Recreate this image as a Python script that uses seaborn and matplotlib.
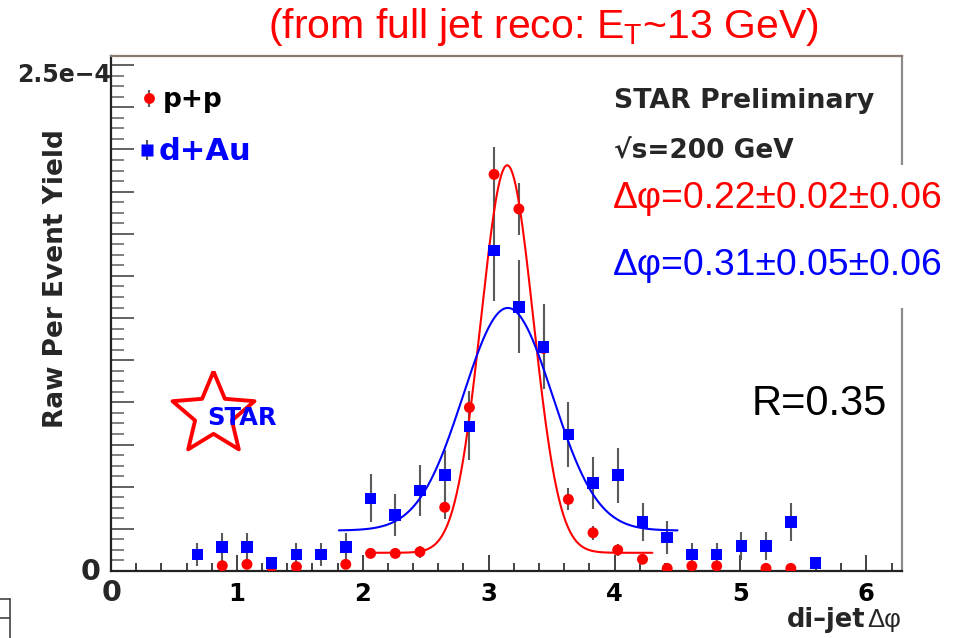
import numpy as np
import pandas as pd
import seaborn as sns
import matplotlib.pyplot as plt
from matplotlib.ticker import FixedLocator, MultipleLocator, AutoMinorLocator, NullFormatter
from matplotlib.lines import Line2D
from matplotlib.patches import Rectangle

# ---------------- data (yields in units of 1e-6 per event) ----------------
YSCALE = 1e-6

pp_dphi = [0.884, 1.080, 1.276, 1.473, 1.865, 2.062, 2.258, 2.454, 2.651, 2.847, 3.043,
           3.240, 3.436, 3.633, 3.829, 4.025, 4.222, 4.418, 4.614, 4.811, 5.203, 5.400]
pp_yield = [2.6, 3.3, 2.1, 2.1, 3.3, 8.7, 8.7, 9.5, 31.5, 80.8, 196.0,
            178.9, 110.0, 35.4, 18.9, 10.4, 5.8, 1.3, 2.5, 2.5, 1.3, 1.3]
pp_err = [2.0, 2.0, 2.0, 2.0, 2.0, 2.5, 2.5, 3.0, 6.0, 8.0, 13.6,
          13.0, 15.0, 5.4, 3.5, 3.0, 2.5, 2.0, 2.0, 2.0, 2.0, 2.0]

dau_dphi = [0.687, 0.884, 1.080, 1.276, 1.473, 1.669, 1.865, 2.062, 2.258, 2.454, 2.651,
            2.847, 3.043, 3.240, 3.436, 3.633, 3.829, 4.025, 4.222, 4.418, 4.614, 4.811,
            5.007, 5.203, 5.400, 5.596]
dau_yield = [8.2, 12.0, 12.0, 4.1, 8.2, 8.2, 12.0, 35.9, 27.7, 39.7, 47.4,
             71.5, 158.3, 130.6, 110.8, 67.5, 43.6, 47.4, 24.1, 16.5, 8.2, 8.2,
             12.4, 12.4, 24.1, 4.1]
dau_err = [5.5, 7.0, 7.0, 3.0, 5.5, 5.5, 7.0, 11.8, 10.5, 12.5, 12.4,
           16.5, 25.0, 23.0, 21.0, 16.0, 12.9, 13.6, 9.5, 8.0, 5.5, 5.5,
           7.0, 7.0, 9.5, 3.0]

# Gaussian + constant fits: mean, sigma, amplitude, pedestal, fit range
pp_fit = dict(mean=3.147, sigma=0.207, amp=191.5, base=9.0, lo=2.03, hi=4.30)
dau_fit = dict(mean=3.152, sigma=0.355, amp=110.0, base=20.0, lo=1.81, hi=4.50)

x_ticks = [0, 1, 2, 3, 4, 5, 6]
x_tick_labels = ["", "1", "2", "3", "4", "5", "6"]

RED = "#ff0000"
BLUE = "#0000ff"
BAR = "#5a5a5a"

# ---------------- style ----------------
sns.set_theme(style="white")
ROOTFONT = ["DejaVu Sans"]
PPTFONT = ["Liberation Sans", "DejaVu Sans"]
plt.rcParams["font.family"] = PPTFONT
plt.rcParams["mathtext.fontset"] = "custom"
plt.rcParams["mathtext.rm"] = "Liberation Sans"
plt.rcParams["mathtext.it"] = "Liberation Sans"

W, H = 961, 638
fig = plt.figure(figsize=(W / 100, H / 100), dpi=100)
fig.patch.set_facecolor("white")


def fx(px):
    return px / W


def fy(py):
    return 1 - py / H


ax = fig.add_axes([fx(111), fy(571), (902 - 111) / W, (571 - 56) / H])
ax.set_facecolor("white")

pp = pd.DataFrame({"dphi": pp_dphi, "y": np.array(pp_yield) * YSCALE,
                   "err": np.array(pp_err) * YSCALE})
dau = pd.DataFrame({"dphi": dau_dphi, "y": np.array(dau_yield) * YSCALE,
                    "err": np.array(dau_err) * YSCALE})


def gauss_curve(p):
    x = np.linspace(p["lo"], p["hi"], 400)
    y = (p["base"] + p["amp"] * np.exp(-0.5 * ((x - p["mean"]) / p["sigma"]) ** 2)) * YSCALE
    return pd.DataFrame({"dphi": x, "y": y})


# error bars
ax.vlines(pp["dphi"], pp["y"] - pp["err"], pp["y"] + pp["err"], color=BAR, lw=1.5, zorder=2)
ax.vlines(dau["dphi"], dau["y"] - dau["err"], dau["y"] + dau["err"], color=BAR, lw=1.5, zorder=2)

# points and fits
sns.scatterplot(data=pp, x="dphi", y="y", ax=ax, marker="o", s=62, color=RED,
                edgecolor="none", zorder=3, legend=False)
sns.lineplot(data=gauss_curve(pp_fit), x="dphi", y="y", ax=ax, color=RED, lw=1.5,
             zorder=4, legend=False)
sns.scatterplot(data=dau, x="dphi", y="y", ax=ax, marker="s", s=70, color=BLUE,
                edgecolor="none", zorder=5, legend=False)
sns.lineplot(data=gauss_curve(dau_fit), x="dphi", y="y", ax=ax, color=BLUE, lw=1.5,
             zorder=6, legend=False)

# axes
ax.set_xlim(0, 2 * np.pi)
ax.set_ylim(0, 2.545e-4)
ax.set_xlabel("")
ax.set_ylabel("")

ax.xaxis.set_major_locator(FixedLocator(x_ticks))
ax.set_xticklabels(x_tick_labels, fontsize=17.5, fontweight="bold", family=ROOTFONT)
ax.xaxis.set_minor_locator(MultipleLocator(0.2))
ax.yaxis.set_major_locator(FixedLocator(np.linspace(0, 2.5e-4, 13)))
ax.yaxis.set_major_formatter(NullFormatter())
ax.yaxis.set_minor_locator(AutoMinorLocator(4))

ax.tick_params(which="both", bottom=True, left=True, top=False, right=False)
ax.tick_params(axis="x", which="major", direction="in", length=11.5, width=1.3,
               color="#333333", pad=8, labelcolor="black")
ax.tick_params(axis="x", which="minor", direction="in", length=5.8, width=1.3, color="#333333")
ax.tick_params(axis="y", which="major", direction="in", length=16.5, width=1.3, color="#555555")
ax.tick_params(axis="y", which="minor", direction="in", length=9, width=1.3, color="#777777")

for side, col in [("left", "#222222"), ("bottom", "#222222"),
                  ("top", "#8a7a74"), ("right", "#8c8c8c")]:
    ax.spines[side].set_visible(True)
    ax.spines[side].set_color(col)
    ax.spines[side].set_linewidth(1.6)

# zero labels and y-axis end label
fig.text(fx(101), fy(579.5), "0", ha="right", va="baseline", fontsize=20.5,
         fontweight="bold", family=ROOTFONT)
fig.text(fx(112), fy(601), "0", ha="center", va="baseline", fontsize=20.5,
         fontweight="bold", family=ROOTFONT)
fig.text(fx(111), fy(81.7), "2.5e\u22124", ha="right", va="baseline", fontsize=17,
         fontweight="bold", family=ROOTFONT)

# axis titles
fig.text(fx(63), fy(279), "Raw Per Event Yield", rotation=90, rotation_mode="anchor",
         ha="center", va="baseline", fontsize=19, fontweight="bold", family=ROOTFONT)
fig.text(fx(901), fy(626.7), "\u0394\u03c6", ha="right", va="baseline", fontsize=18.5,
         family=PPTFONT)
fig.text(fx(866), fy(626.7), "di\u2013jet", ha="right", va="baseline", fontsize=18.5,
         fontweight="bold", family=ROOTFONT)

# legend entries
ax.vlines([(149 - 111) / 791], [(571 - 107) / 515], [(571 - 90) / 515],
          transform=ax.transAxes, color=BAR, lw=1.5, clip_on=False, zorder=7)
ax.plot([(149 - 111) / 791], [(571 - 98) / 515], marker="o", ms=7.8, color=RED,
        mec="none", transform=ax.transAxes, clip_on=False, zorder=8)
ax.vlines([(147 - 111) / 791], [(571 - 160) / 515], [(571 - 140) / 515],
          transform=ax.transAxes, color=BAR, lw=1.5, clip_on=False, zorder=7)
ax.plot([(147 - 111) / 791], [(571 - 150) / 515], marker="s", ms=8, color=BLUE,
        mec="none", transform=ax.transAxes, clip_on=False, zorder=8)
fig.text(fx(163), fy(107), "p+p", ha="left", va="baseline", fontsize=19,
         fontweight="bold", family=ROOTFONT, color="black")
fig.text(fx(159), fy(160), "d+Au", ha="left", va="baseline", fontsize=22,
         fontweight="bold", family=ROOTFONT, color=BLUE)

# STAR logo: closed five-pointed outline star
ang = np.pi / 2 + np.arange(11) * np.pi / 5
rad = np.where(np.arange(11) % 2 == 0, 1.0, 0.45)
star_path = list(zip(rad * np.cos(ang), rad * np.sin(ang)))
ax.plot([(213 - 111) / 791], [(571 - 414.4) / 515], marker=star_path, ms=62,
        mfc="none", mec=RED, mew=2.8, transform=ax.transAxes, clip_on=False, zorder=8)
fig.text(fx(241.7), fy(425), "STAR", ha="center", va="baseline", fontsize=17.5,
         fontweight="bold", family=ROOTFONT, color=BLUE, zorder=9)

# labels on the right
fig.text(fx(614), fy(108.3), "STAR Preliminary", ha="left", va="baseline", fontsize=19.3,
         fontweight="bold", family=ROOTFONT)
fig.text(fx(614), fy(158.3), "\u221as=200 GeV", ha="left", va="baseline", fontsize=19,
         fontweight="bold", family=ROOTFONT)

fig.add_artist(Rectangle((fx(604), fy(308)), (W - 604) / W, (308 - 165) / H,
                         transform=fig.transFigure, facecolor="white",
                         edgecolor="none", zorder=5))
fig.text(fx(613), fy(208.3), "\u0394\u03c6=0.22\u00b10.02\u00b10.06", ha="left",
         va="baseline", fontsize=26.8, color=RED, zorder=6)
fig.text(fx(613), fy(275), "\u0394\u03c6=0.31\u00b10.05\u00b10.06", ha="left",
         va="baseline", fontsize=26.8, color=BLUE, zorder=6)
fig.text(fx(751.7), fy(415), "R=0.35", ha="left", va="baseline", fontsize=30,
         color="black")

# heading
fig.text(fx(543), fy(38), "(from full jet reco: E$_\\mathregular{T}$~13 GeV)",
         ha="center", va="baseline", fontsize=29.5, color=RED)

# frame fragment in the lower-left corner
for seg in [((0, 10), (599, 599)), ((10, 10), (599, 638)), ((0, 10), (618, 618))]:
    fig.add_artist(Line2D([fx(v) for v in seg[0]], [fy(v) for v in seg[1]],
                          color="#444444", lw=1.2, transform=fig.transFigure))

fig.savefig("out.png", dpi=100, facecolor="white")
